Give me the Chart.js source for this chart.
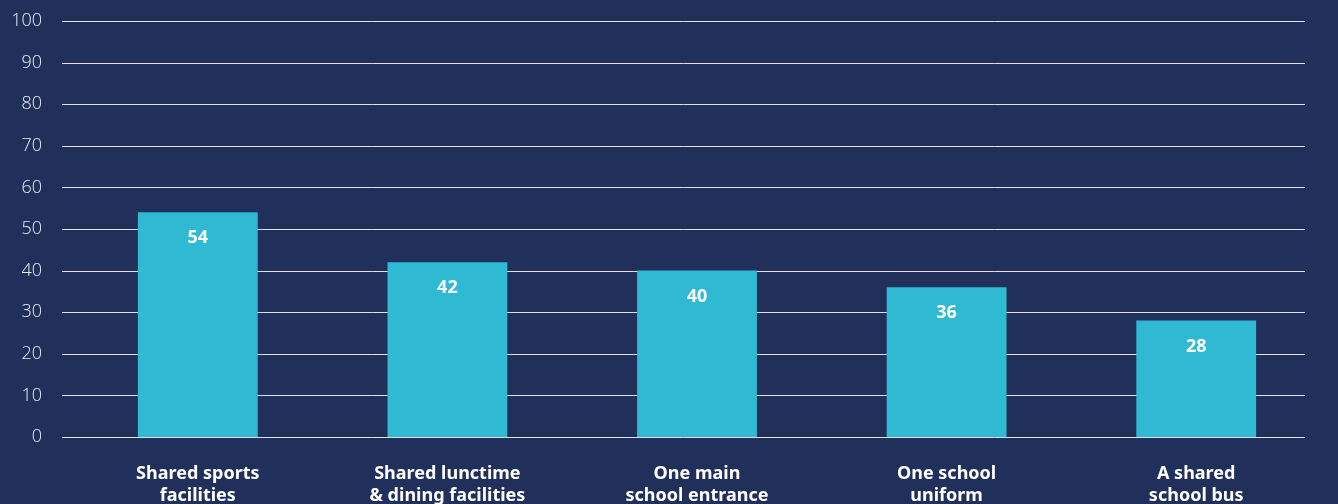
<!DOCTYPE html>
<html>
<head>
<meta charset="utf-8">
<script src="https://cdn.jsdelivr.net/npm/chart.js@4.4.0/dist/chart.umd.min.js"></script>
<style>
  html, body { margin: 0; padding: 0; background: #20305a; }
  #wrap { width: 1338px; height: 504px; }
</style>
</head>
<body>
<div id="wrap"><canvas id="chart"></canvas></div>
<script>
// categories (two-line labels) and values
const categories = [
  ['Shared sports', 'facilities'],
  ['Shared lunctime', '& dining facilities'],
  ['One main', 'school entrance'],
  ['One school', 'uniform'],
  ['A shared', 'school bus']
];
const values = [54, 42, 40, 36, 28];
const yTicks = [0, 10, 20, 30, 40, 50, 60, 70, 80, 90, 100];

const BG = '#20305a';
const BAR = '#2fb9d3';
const TEXT = '#ffffff';

// horizontal grid lines, drawn a bit wider left than the plot area
const gridPlugin = {
  id: 'grid',
  beforeDatasetsDraw(chart) {
    const { ctx, scales: { y } } = chart;
    ctx.save();
    ctx.strokeStyle = 'rgba(255,255,255,0.85)';
    ctx.lineWidth = 1;
    yTicks.forEach(v => {
      const py = Math.round(y.getPixelForValue(v)) + 0.5;
      ctx.beginPath();
      ctx.moveTo(62, py);
      ctx.lineTo(1305, py);
      ctx.stroke();
    });
    ctx.restore();
  }
};

// value labels inside the top of each bar
const labelPlugin = {
  id: 'valueLabels',
  afterDatasetsDraw(chart) {
    const { ctx } = chart;
    const meta = chart.getDatasetMeta(0);
    ctx.save();
    ctx.fillStyle = TEXT;
    ctx.font = 'bold 18px "Noto Sans", sans-serif';
    ctx.textAlign = 'center';
    ctx.textBaseline = 'middle';
    meta.data.forEach((bar, i) => {
      ctx.fillText(String(values[i]), bar.x, bar.y + 26);
    });
    ctx.restore();
  }
};

new Chart(document.getElementById('chart'), {
  type: 'bar',
  data: {
    labels: categories,
    datasets: [{
      data: values,
      backgroundColor: BAR,
      borderWidth: 0,
      barPercentage: 0.48,
      categoryPercentage: 1
    }]
  },
  options: {
    responsive: true,
    maintainAspectRatio: false,
    animation: false,
    layout: { padding: { top: 21, right: 17, left: 0, bottom: 0 } },
    plugins: { legend: { display: false }, tooltip: { enabled: false } },
    scales: {
      x: {
        grid: { display: false, drawTicks: false },
        border: { display: false },
        ticks: {
          color: TEXT,
          padding: 26,
          maxRotation: 0,
          autoSkip: false,
          font: { family: '"Noto Sans", sans-serif', size: 18, weight: 'bold', lineHeight: 1.2 }
        },
        afterFit(scale) {
          scale.height = 67;
          scale.paddingLeft = 0;
          scale.paddingRight = 0;
        }
      },
      y: {
        min: 0,
        max: 100,
        grid: { display: false, drawTicks: false },
        border: { display: false },
        afterBuildTicks(scale) { scale.ticks = yTicks.map(v => ({ value: v })); },
        ticks: {
          color: '#e8ebf2',
          padding: 31,
          font: { family: '"Open Sans", sans-serif', size: 18, weight: 300 }
        },
        afterFit(scale) {
          scale.width = 73;
          scale.paddingTop = 0;
          scale.paddingBottom = 0;
        }
      }
    }
  },
  plugins: [gridPlugin, labelPlugin]
});
</script>
</body>
</html>
